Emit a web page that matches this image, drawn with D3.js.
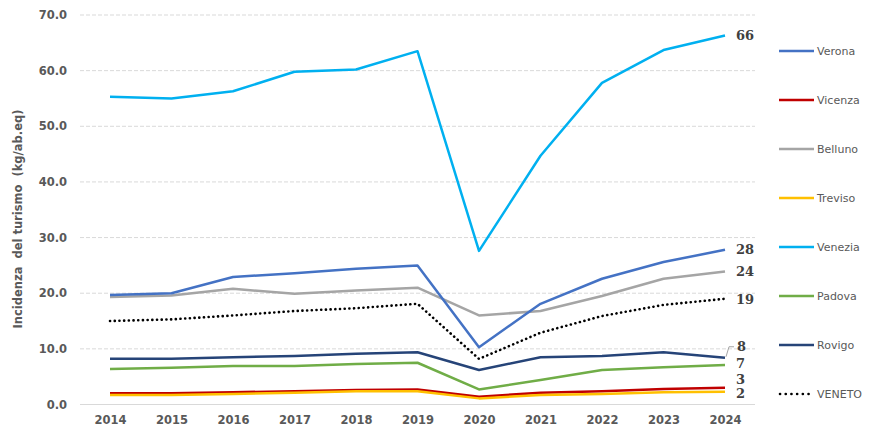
<!DOCTYPE html>
<html>
<head>
<meta charset="utf-8">
<script src="https://cdn.jsdelivr.net/npm/d3@7"></script>
<style>
  body { margin: 0; background: #fff; }
  text { font-family: "DejaVu Sans", Verdana, sans-serif; }
</style>
</head>
<body>
<script>
const w = 872;
const h = 439;

const years = [2014, 2015, 2016, 2017, 2018, 2019, 2020, 2021, 2022, 2023, 2024];
const yTicks = [0, 10, 20, 30, 40, 50, 60, 70];

const verona  = [19.7, 20.0, 22.9, 23.6, 24.4, 25.0, 10.3, 18.1, 22.6, 25.6, 27.8];
const vicenza = [2.0, 2.0, 2.2, 2.4, 2.6, 2.7, 1.4, 2.1, 2.4, 2.8, 3.0];
const belluno = [19.3, 19.6, 20.8, 19.9, 20.5, 21.0, 16.0, 16.8, 19.5, 22.6, 23.9];
const treviso = [1.7, 1.7, 1.9, 2.1, 2.4, 2.4, 1.1, 1.7, 1.9, 2.2, 2.3];
const venezia = [55.3, 55.0, 56.3, 59.8, 60.2, 63.5, 27.6, 44.7, 57.8, 63.7, 66.3];
const padova  = [6.4, 6.6, 6.9, 6.9, 7.3, 7.5, 2.7, 4.4, 6.2, 6.7, 7.1];
const rovigo  = [8.2, 8.2, 8.5, 8.7, 9.1, 9.4, 6.2, 8.5, 8.7, 9.4, 8.4];
const veneto  = [15.0, 15.3, 16.0, 16.8, 17.3, 18.1, 8.2, 12.9, 15.9, 17.9, 19.0];

const seriesNames = ["Verona", "Vicenza", "Belluno", "Treviso", "Venezia", "Padova", "Rovigo", "VENETO"];
const seriesValues = [verona, vicenza, belluno, treviso, venezia, padova, rovigo, veneto];
const colors = ["#4472C4", "#C00000", "#A5A5A5", "#FFC000", "#00B0F0", "#70AD47", "#264478", "#000000"];

// end labels: text and vertical nudge (px) so they don't collide
const endLabels = ["28", "3", "24", "2", "66", "7", "8", "19"];
const labelNudge = [0, -8, 0, 2, 0, -1, -11, 1];

const xScale = d3.scalePoint()
  .domain(years)
  .range([110, 725]);

const yScale = d3.scaleLinear()
  .domain([0, 70])
  .range([404.5, 15]);

const svg = d3.select("body")
  .append("svg")
  .attr("width", w)
  .attr("height", h);

// gridlines
svg.append("g")
  .selectAll("line")
  .data(yTicks.filter(d => d > 0))
  .enter()
  .append("line")
  .attr("x1", 80)
  .attr("x2", 755)
  .attr("y1", d => yScale(d))
  .attr("y2", d => yScale(d))
  .attr("stroke", "#D9D9D9")
  .attr("stroke-dasharray", "4,2");

const xAxis = d3.axisBottom(xScale).tickSize(0).tickPadding(11);
const yAxis = d3.axisLeft(yScale).tickValues(yTicks).tickSize(0).tickPadding(13)
  .tickFormat(d3.format(".1f"));

const gx = svg.append("g")
  .attr("transform", "translate(0," + yScale(0) + ")")
  .call(xAxis);
gx.select(".domain").remove();
svg.append("line")
  .attr("x1", 80).attr("x2", 755)
  .attr("y1", yScale(0)).attr("y2", yScale(0))
  .attr("stroke", "#D9D9D9");

const gy = svg.append("g")
  .attr("transform", "translate(80,0)")
  .call(yAxis);
gy.select(".domain").remove();

svg.selectAll(".tick text")
  .attr("fill", "#595959")
  .style("font-size", "11.5px")
  .style("font-weight", "bold");

svg.append("text")
  .attr("transform", "translate(22,219) rotate(-90)")
  .attr("text-anchor", "middle")
  .attr("fill", "#595959")
  .style("font-size", "11.5px")
  .style("font-weight", "bold")
  .style("white-space", "pre")
  .text("Incidenza  del turismo  (kg/ab.eq)");

const line = d3.line()
  .x((d, i) => xScale(years[i]))
  .y(d => yScale(d));

const isDot = i => seriesNames[i] === "VENETO";

const drawOrder = [7, 1, 3, 5, 6, 2, 0, 4];
svg.append("g")
  .selectAll("path")
  .data(drawOrder)
  .enter()
  .append("path")
  .attr("d", i => line(seriesValues[i]))
  .attr("fill", "none")
  .attr("stroke", i => colors[i])
  .attr("stroke-width", i => isDot(i) ? 2.6 : 2.5)
  .attr("stroke-dasharray", i => isDot(i) ? "0.1,4.6" : null)
  .attr("stroke-linecap", i => isDot(i) ? "round" : "butt")
  .attr("stroke-linejoin", "round");

// leader line for Rovigo label
const last = years[years.length - 1];
const rovIdx = seriesNames.indexOf("Rovigo");
svg.append("path")
  .attr("d", "M" + (xScale(last) + 1) + "," + (yScale(rovigo[10]) - 1) +
    "L" + (xScale(last) + 4) + "," + (yScale(rovigo[10]) + labelNudge[rovIdx]) +
    "L" + (xScale(last) + 9) + "," + (yScale(rovigo[10]) + labelNudge[rovIdx]))
  .attr("fill", "none")
  .attr("stroke", "#A5A5A5")
  .attr("stroke-width", 1);

svg.append("g")
  .selectAll("text")
  .data(seriesNames.map((n, i) => i))
  .enter()
  .append("text")
  .attr("x", i => xScale(last) + (seriesNames[i] === "Rovigo" ? 12 : 11))
  .attr("y", i => yScale(seriesValues[i][10]) + labelNudge[i] + 4.5)
  .attr("fill", "#404040")
  .style("font-family", "'DejaVu Serif', serif")
  .style("font-size", "13px")
  .style("font-weight", "bold")
  .text(i => endLabels[i]);

// legend
const legendY = d3.scalePoint()
  .domain(seriesNames)
  .range([51, 394]);

const legend = svg.append("g")
  .selectAll("g")
  .data(seriesNames.map((n, i) => i))
  .enter()
  .append("g")
  .attr("transform", i => "translate(779," + legendY(seriesNames[i]) + ")");

legend.append("line")
  .attr("x1", i => isDot(i) ? 1 : 0)
  .attr("x2", 35)
  .attr("stroke", i => colors[i])
  .attr("stroke-width", i => isDot(i) ? 2.6 : 2.5)
  .attr("stroke-dasharray", i => isDot(i) ? "0.1,5.6" : null)
  .attr("stroke-linecap", i => isDot(i) ? "round" : "butt");

legend.append("text")
  .attr("x", 38)
  .attr("y", 4)
  .attr("fill", "#595959")
  .style("font-size", "11px")
  .text(i => seriesNames[i]);
</script>
</body>
</html>
